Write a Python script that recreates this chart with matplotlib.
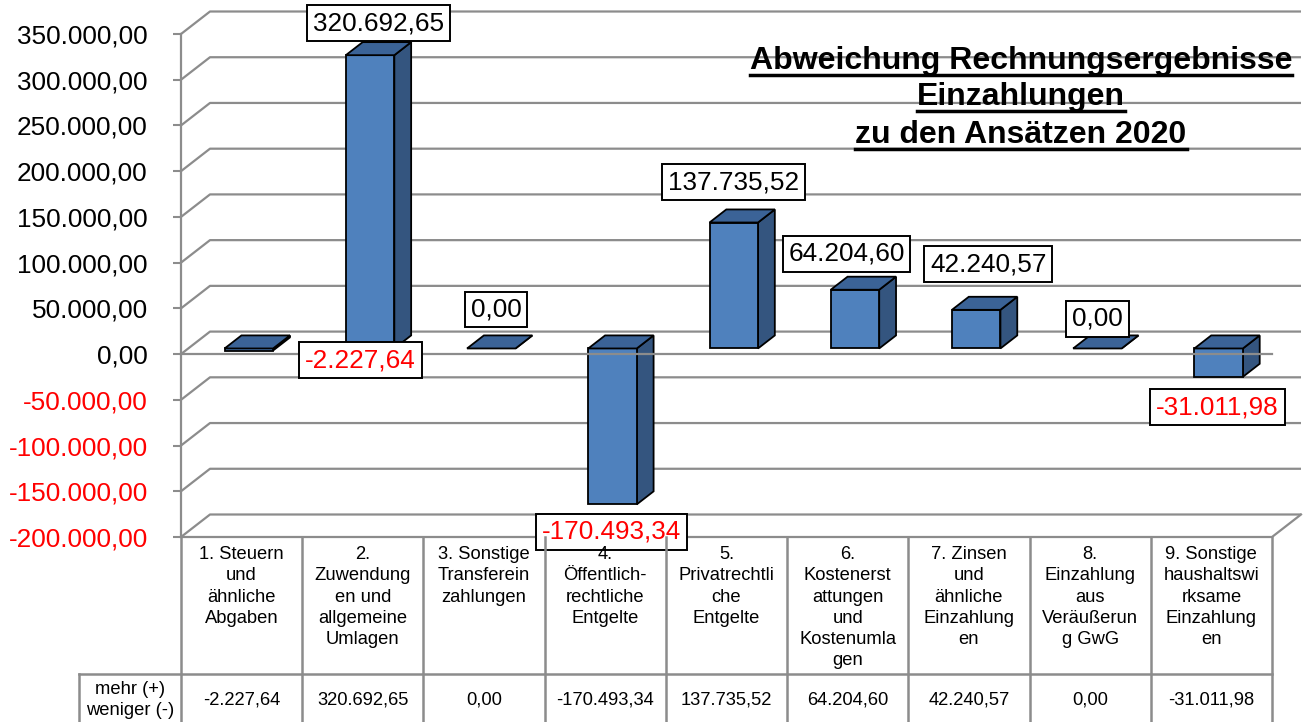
import matplotlib
matplotlib.use("Agg")
import matplotlib.pyplot as plt
from matplotlib.patches import Polygon
from matplotlib.lines import Line2D

plt.rcParams['font.family'] = ['Liberation Sans', 'DejaVu Sans']

# data
categories = ["1. Steuern\nund\nähnliche\nAbgaben",
              "2.\nZuwendung\nen und\nallgemeine\nUmlagen",
              "3. Sonstige\nTransferein\nzahlungen",
              "4.\nÖffentlich-\nrechtliche\nEntgelte",
              "5.\nPrivatrechtli\nche\nEntgelte",
              "6.\nKostenerst\nattungen\nund\nKostenumla\ngen",
              "7. Zinsen\nund\nähnliche\nEinzahlung\nen",
              "8.\nEinzahlung\naus\nVeräußerun\ng GwG",
              "9. Sonstige\nhaushaltswi\nrksame\nEinzahlung\nen"]
values = [-2227.64, 320692.65, 0.00, -170493.34, 137735.52,
          64204.60, 42240.57, 0.00, -31011.98]
yticks = list(range(-200000, 350001, 50000))
row_header = "mehr (+)\nweniger (-)"
title_lines = ["Abweichung Rechnungsergebnisse", "Einzahlungen",
               "zu den Ansätzen 2020"]

# where the data labels sit (x in category units, y in value units)
label_pos = [(1.48, -6500), (1.63, 362000), (2.60, 49000), (3.55, -194500),
             (4.56, 188000), (5.49, 109500), (6.66, 98500), (7.56, 38500),
             (8.55, -58000)]


def de(v):
    s = "{:,.2f}".format(v)
    return s.replace(",", "X").replace(".", ",").replace("X", ".")


W, H = 1311, 722
fig = plt.figure(figsize=(W / 100, H / 100), dpi=100)

grid_c = '#8c8c8c'
front_c = '#4f81bd'
side_c = '#34557f'
top_c = '#3b6397'

ax = fig.add_axes([181 / W, 1 - 537 / H, 1091 / W, 503 / H])
ax.set_xlim(0, 9)
ax.set_ylim(-200000, 350000)
ax.patch.set_visible(False)

ypp = 550000 / 503.0   # value units per pixel
DX = 29 / (1091 / 9.0)  # depth offset of the 3d box
DY = 22.5 * ypp

# back wall + side wall gridlines
for v in yticks:
    ax.plot([0, DX, 9 + DX], [v, v + DY, v + DY], color=grid_c, lw=1.6,
            clip_on=False, zorder=1, solid_capstyle='butt')
# floor
ax.plot([0, 9, 9 + DX], [-200000, -200000, -200000 + DY], color=grid_c,
        lw=1.6, clip_on=False, zorder=1)

# bars
k0, k1, bw = 0.25, 0.58, 0.40
for i, v in enumerate(values):
    c = i + 0.5 + k0 * DX
    x0, x1 = c - bw / 2, c + bw / 2
    b = k0 * DY
    t = v + k0 * DY
    lo, hi = min(b, t), max(b, t)
    ex, ey = k1 * DX, k1 * DY
    front = Polygon([(x0, lo), (x1, lo), (x1, hi), (x0, hi)], closed=True,
                    fc=front_c, ec='black', lw=1.3, zorder=2)
    side = Polygon([(x1, lo), (x1 + ex, lo + ey), (x1 + ex, hi + ey), (x1, hi)],
                   closed=True, fc=side_c, ec='black', lw=1.3, zorder=2)
    top = Polygon([(x0, hi), (x1, hi), (x1 + ex, hi + ey), (x0 + ex, hi + ey)],
                  closed=True, fc=top_c, ec='black', lw=1.3, zorder=2)
    for p in (side, front, top):
        p.set_clip_on(False)
        ax.add_patch(p)

# front zero line
ax.plot([0, 9], [0, 0], color=grid_c, lw=1.6, zorder=3, clip_on=False)

# data labels
for (lx, ly), v in zip(label_pos, values):
    ax.text(lx, ly, de(v), ha='center', va='center', fontsize=18.8,
            color='red' if v < 0 else 'black', zorder=5, clip_on=False,
            bbox=dict(boxstyle='square,pad=0.22', fc='white', ec='black',
                      lw=1.4))

# y axis
ax.set_yticks(yticks)
lbls = ax.set_yticklabels([de(v) for v in yticks], fontsize=18.8)
for v, l in zip(yticks, lbls):
    l.set_color('red' if v < 0 else 'black')
ax.tick_params(axis='y', length=6, width=1.5, color=grid_c, pad=18)
ax.set_xticks([])
for s in ['top', 'right', 'bottom']:
    ax.spines[s].set_visible(False)
ax.spines['left'].set_color(grid_c)
ax.spines['left'].set_linewidth(1.6)

# data table below the chart
tax = fig.add_axes([181 / W, 0, 1091 / W, 185 / H])
tax.set_xlim(0, 9)
tax.set_ylim(185, 0)
tax.axis('off')
hx = -102 / (1091 / 9.0)
for i in range(10):
    tax.plot([i, i], [0, 190], color=grid_c, lw=1.8, clip_on=False)
tax.plot([hx, 9], [137, 137], color=grid_c, lw=1.8, clip_on=False)
tax.plot([hx, hx], [137, 190], color=grid_c, lw=1.8, clip_on=False)
for i, (cat, v) in enumerate(zip(categories, values)):
    tax.text(i + 0.5, 9, cat, ha='center', va='top', fontsize=13.2,
             linespacing=1.33, clip_on=False)
    tax.text(i + 0.5, 163, de(v), ha='center', va='center', fontsize=13.2,
             clip_on=False)
tax.text(hx / 2, 163, row_header, ha='center', va='center', fontsize=13.2,
         linespacing=1.3, clip_on=False)

# title, underlined
tts = []
for line, base in zip(title_lines, [69, 105, 143]):
    tts.append(fig.text(1021 / W, 1 - base / H, line, ha='center',
                        va='baseline', fontsize=23, fontweight='bold'))
fig.canvas.draw()
r = fig.canvas.get_renderer()
for t, base in zip(tts, [69, 105, 143]):
    bb = t.get_window_extent(r)
    uy = 1 - (base + 5.5) / H
    fig.add_artist(Line2D([bb.x0 / W, bb.x1 / W], [uy, uy], color='black',
                          lw=2.5, transform=fig.transFigure))

fig.savefig("out.png", dpi=100)
